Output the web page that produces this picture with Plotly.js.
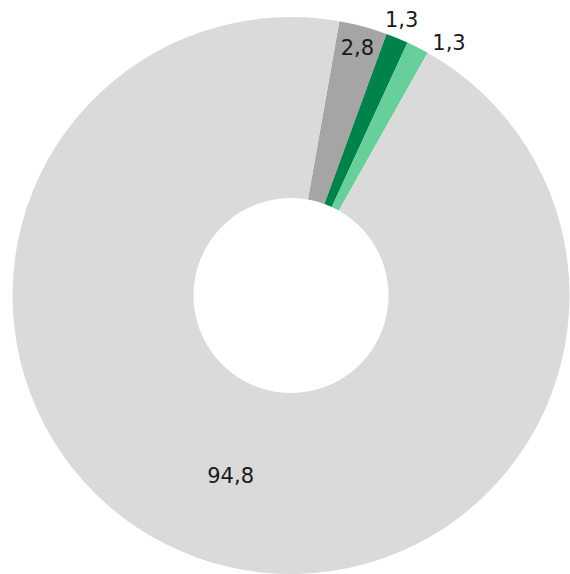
<!DOCTYPE html>
<html><head><meta charset="utf-8">
<script src="https://cdn.plot.ly/plotly-3.0.1.min.js"></script>
<style>html,body{margin:0;padding:0;background:#fff}#chart{width:570px;height:574px}</style>
</head><body><div id="chart"></div>
<script>
const categories = ["B", "C", "D", "A"];
const values = [2.8, 1.3, 1.3, 94.8];
const colors = ["#a5a5a5", "#00834a", "#66cf9a", "#dadada"];

const common = {
  type: "pie",
  labels: categories,
  values: values,
  sort: false,
  direction: "clockwise",
  rotation: 10,
  hole: 0.35,
  textinfo: "value",
  insidetextorientation: "horizontal",
  textfont: {family: "DejaVu Sans", size: 21, color: "#1a1a1a"},
  hoverinfo: "skip"
};
const clear = categories.map(() => "rgba(0,0,0,0)");

// main donut with the inside label of the small grey slice
const main = Object.assign({}, common, {
  marker: {colors: colors, line: {width: 0}},
  textposition: ["inside", "none", "none", "none"]
});
// transparent overlays carrying one label each (label placement only)
const labelA = Object.assign({}, common, {
  rotation: 8.75,
  hole: 0.37,
  marker: {colors: clear, line: {width: 0}},
  textposition: ["none", "none", "none", "inside"]
});
const labelC = Object.assign({}, common, {
  rotation: 6,
  marker: {colors: clear, line: {width: 0}},
  textposition: ["none", "outside", "none", "none"]
});
const labelD = Object.assign({}, common, {
  rotation: 12,
  marker: {colors: clear, line: {width: 0}},
  textposition: ["none", "none", "outside", "none"]
});

Plotly.newPlot("chart", [main, labelA, labelC, labelD], {
  width: 570, height: 574,
  margin: {l: 12, r: 0, t: 17, b: 0},
  showlegend: false,
  separators: ", ",
  paper_bgcolor: "#fff"
}, {staticPlot: true});
</script></body></html>
